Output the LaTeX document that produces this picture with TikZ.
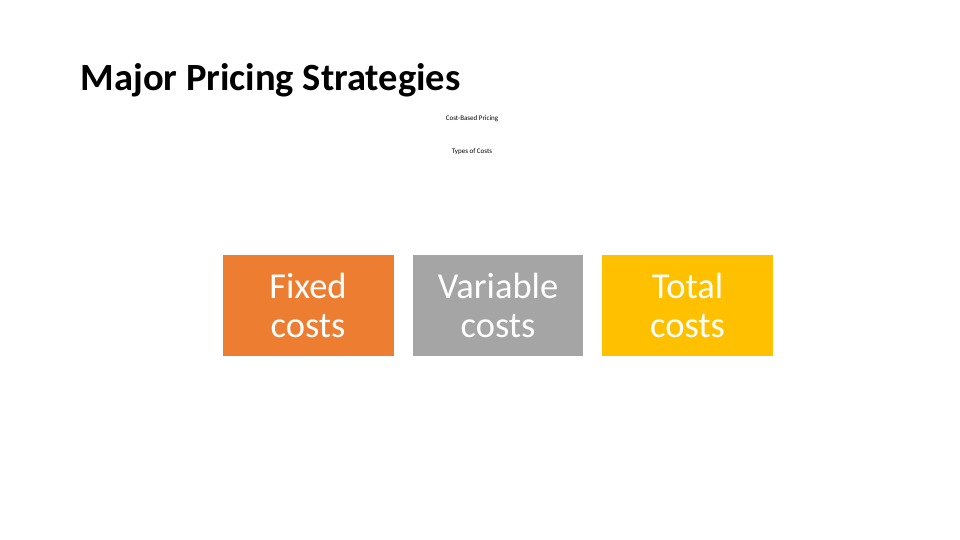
\documentclass[tikz,border=0pt]{standalone}
\usepackage{fontspec}
\setmainfont{Carlito}
\definecolor{fixedorange}{HTML}{ED7D31}
\definecolor{variablegray}{HTML}{A5A5A5}
\definecolor{totalgold}{HTML}{FFC000}
\begin{document}
\begin{tikzpicture}[x=1pt, y=-1pt, costbox/.style={rectangle, minimum width=171pt, minimum height=101pt, inner sep=0pt, text=white, align=center, font=\fontsize{36.5}{39}\selectfont}]
			\useasboundingbox (0,0) rectangle (960,540);
			\node [anchor=base west, font=\fontsize{38.5}{42}\selectfont\bfseries] (title) at (77,91) {Major Pricing Strategies};
			\node [font=\fontsize{7}{8}\selectfont] (cbp) at (472,119) {Cost-Based Pricing};
			\node [font=\fontsize{7}{8}\selectfont] (types) at (472,152) {Types of Costs};
			\node [costbox, fill=fixedorange] (fixed) at (308,305.5) {Fixed\\costs};
			\node [costbox, fill=variablegray, minimum width=170pt] (variable) at (498,305.5) {Variable\\costs};
			\node [costbox, fill=totalgold] (total) at (687.5,305.5) {Total\\costs};
		\end{tikzpicture}
\end{document}
